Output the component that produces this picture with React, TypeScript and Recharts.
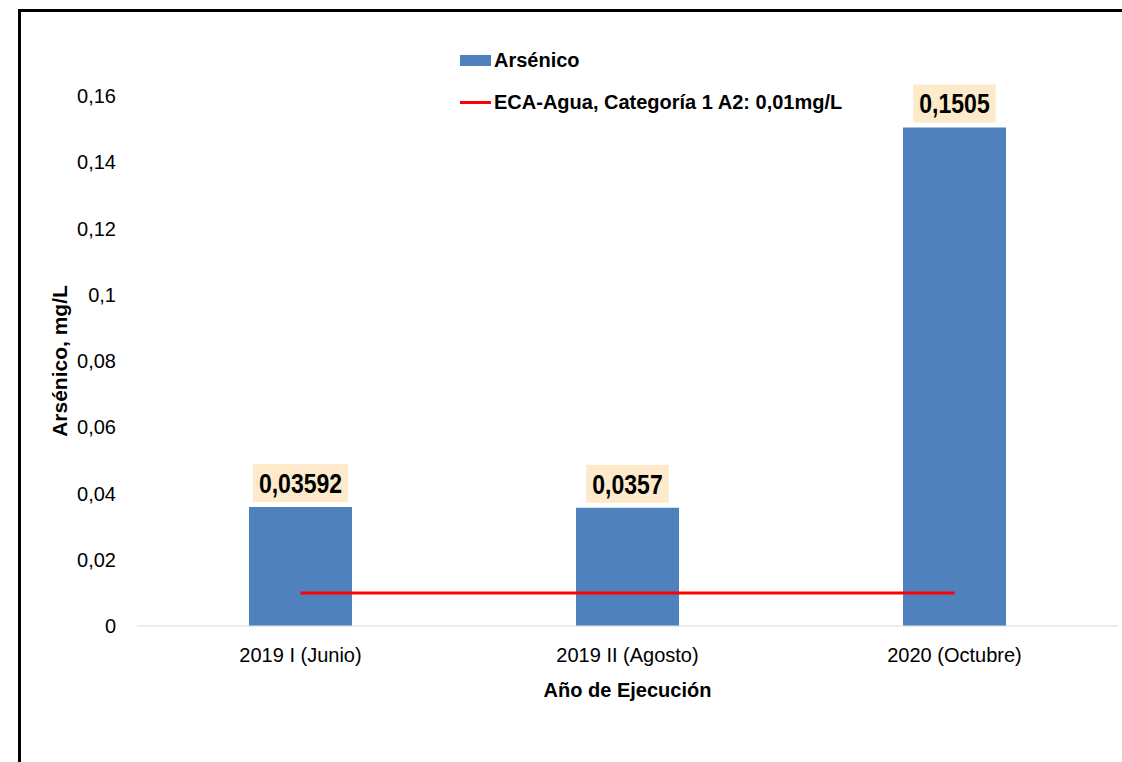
import React from "react";
import { Bar, ComposedChart, LabelList, Line, XAxis, YAxis } from "recharts";

const periods = ["2019 I (Junio)", "2019 II (Agosto)", "2020 (Octubre)"];
const arsenico = [0.03592, 0.0357, 0.1505];
const ecaLimit = [0.01, 0.01, 0.01];
const yTicks = [0, 0.02, 0.04, 0.06, 0.08, 0.1, 0.12, 0.14, 0.16];

const BAR_NAME = "Arsénico";
const LINE_NAME = "ECA-Agua, Categoría 1 A2: 0,01mg/L";
const BAR_COLOR = "#4F81BD";
const LINE_COLOR = "#FF0000";

const data = periods.map((period, i) => ({
  period,
  arsenico: arsenico[i],
  eca: ecaLimit[i],
}));

const FONT = "'Liberation Sans', Arial, sans-serif";

const fmt = (v: number) => String(v).replace(".", ",");

function ValueTag(props: any) {
  const { x, y, width, value } = props;
  const text = fmt(value);
  const digits = text.replace(/[^0-9]/g, "").length;
  const commas = text.length - digits;
  // condensed look: squeeze the glyphs to ~82% of normal bold width
  const textW = digits * 12.8 + commas * 6.4;
  const w = textW + 12;
  const cx = x + width / 2;
  return (
    <g>
      <rect x={cx - w / 2} y={y - 43} width={w} height={38} fill="#FDEACB" />
      <text
        x={cx}
        y={y - 14}
        textAnchor="middle"
        fontFamily={FONT}
        fontWeight="bold"
        fontSize={28}
        textLength={textW}
        lengthAdjust="spacingAndGlyphs"
        fill="#000"
      >
        {text}
      </text>
    </g>
  );
}

// legend drawn as plain html so it doesn't eat into the plot area
function ChartLegend() {
  const row = { display: "flex", alignItems: "center", height: 42 } as const;
  return (
    <div
      style={{
        position: "absolute",
        left: 460,
        top: 39,
        fontFamily: FONT,
        fontWeight: "bold",
        fontSize: 20,
        color: "#000",
        whiteSpace: "nowrap",
      }}
    >
      <div style={row}>
        <span style={{ width: 31, height: 11, background: BAR_COLOR, marginRight: 3 }} />
        <span>{BAR_NAME}</span>
      </div>
      <div style={row}>
        <span style={{ width: 31, height: 3, background: LINE_COLOR, marginRight: 3 }} />
        <span>{LINE_NAME}</span>
      </div>
    </div>
  );
}

export default function App() {
  return (
    <div
      style={{
        position: "absolute",
        left: 0,
        top: 0,
        width: 1122,
        height: 762,
        overflow: "hidden",
        background: "#fff",
      }}
    >
      <div style={{ position: "absolute", left: 18, top: 9, width: 1104, height: 3, background: "#000" }} />
      <div style={{ position: "absolute", left: 18, top: 9, width: 3, height: 753, background: "#000" }} />
      <div style={{ position: "absolute", left: 0, top: 0 }}>
        <ComposedChart
          width={1122}
          height={762}
          data={data}
          margin={{ top: 96, right: 4, bottom: 56, left: 57 }}
        >
          <XAxis
            dataKey="period"
            height={80}
            axisLine={{ stroke: "#d9d9d9", strokeWidth: 1 }}
            tickLine={false}
            tickSize={0}
            tickMargin={22}
            tick={{ fill: "#000", fontSize: 20, fontFamily: FONT }}
            label={{
              content: (p: any) => (
                <text
                  x={p.viewBox.x + p.viewBox.width / 2}
                  y={697}
                  textAnchor="middle"
                  fontFamily={FONT}
                  fontWeight="bold"
                  fontSize={20}
                  fill="#000"
                >
                  Año de Ejecución
                </text>
              ),
            }}
          />
          <YAxis
            width={80}
            domain={[0, 0.16]}
            ticks={yTicks}
            axisLine={false}
            tickLine={false}
            tickSize={0}
            tickMargin={21}
            tickFormatter={fmt}
            tick={{ fill: "#000", fontSize: 20, fontFamily: FONT }}
            label={{
              content: (p: any) => {
                const cy = p.viewBox.y + p.viewBox.height / 2;
                return (
                  <text
                    x={67}
                    y={cy}
                    transform={`rotate(-90, 67, ${cy})`}
                    textAnchor="middle"
                    fontFamily={FONT}
                    fontWeight="bold"
                    fontSize={21}
                    fill="#000"
                  >
                    Arsénico, mg/L
                  </text>
                );
              },
            }}
          />
          <Bar
            dataKey="arsenico"
            name={BAR_NAME}
            fill={BAR_COLOR}
            barSize={103}
            isAnimationActive={false}
          >
            <LabelList dataKey="arsenico" content={<ValueTag />} />
          </Bar>
          <Line
            dataKey="eca"
            name={LINE_NAME}
            stroke={LINE_COLOR}
            strokeWidth={3}
            dot={false}
            activeDot={false}
            isAnimationActive={false}
          />
        </ComposedChart>
      </div>
      <ChartLegend />
    </div>
  );
}
